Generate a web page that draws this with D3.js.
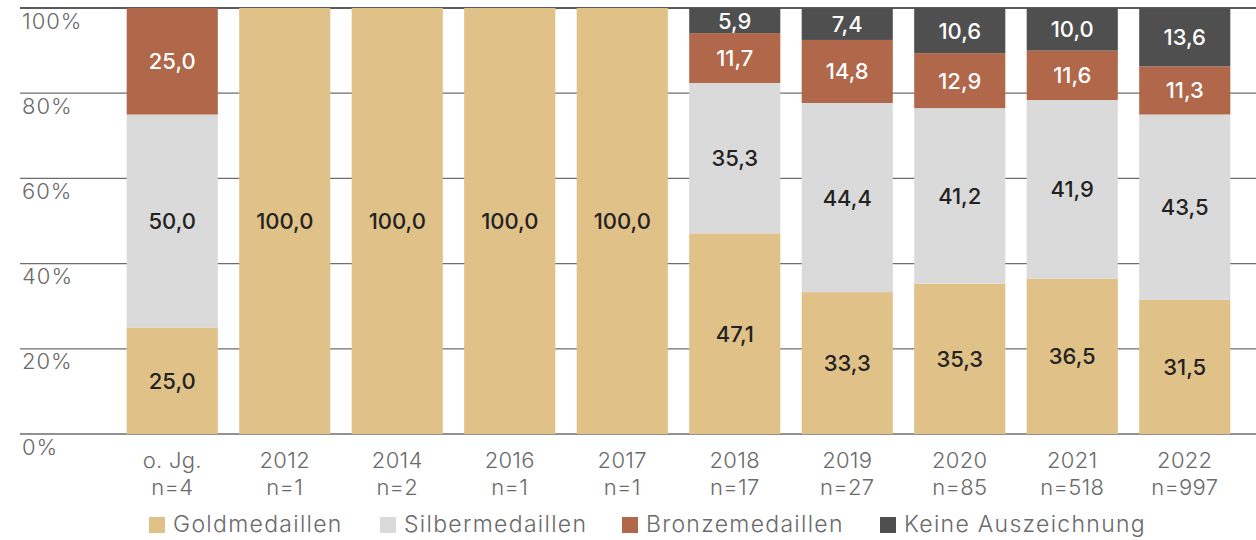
<!DOCTYPE html>
<html>
<head>
<meta charset="utf-8">
<script src="https://cdn.jsdelivr.net/npm/d3@7"></script>
<style>
  body { margin: 0; background: #fff; }
  text { font-family: Inter, "Noto Sans", sans-serif; }
</style>
</head>
<body>
<div id="chart"></div>
<script>
// categories (two-line x labels)
var years = ["o. Jg.", "2012", "2014", "2016", "2017", "2018", "2019", "2020", "2021", "2022"];
var counts = ["n=4", "n=1", "n=2", "n=1", "n=1", "n=17", "n=27", "n=85", "n=518", "n=997"];

// series values in percent
var gold   = [25.0, 100.0, 100.0, 100.0, 100.0, 47.1, 33.3, 35.3, 36.5, 31.5];
var silver = [50.0, 0, 0, 0, 0, 35.3, 44.4, 41.2, 41.9, 43.5];
var bronze = [25.0, 0, 0, 0, 0, 11.7, 14.8, 12.9, 11.6, 11.3];
var none   = [0, 0, 0, 0, 0, 5.9, 7.4, 10.6, 10.0, 13.6];

var seriesNames = ["Goldmedaillen", "Silbermedaillen", "Bronzemedaillen", "Keine Auszeichnung"];
var yTicks = [0, 20, 40, 60, 80, 100];

var colors = ["#E0C187", "#DADADA", "#B0674A", "#4F4F4F"];
var labelColors = ["#222222", "#222222", "#FFFFFF", "#FFFFFF"];
var textGray = "#6a6a6a";

var w = 1256, h = 540;
var svg = d3.select("#chart").append("svg")
            .attr("width", w)
            .attr("height", h);

var x = d3.scaleBand()
          .domain(years)
          .range([116, 1241])
          .paddingInner(0.19)
          .paddingOuter(0.095);

var y = d3.scaleLinear()
          .domain([0, 100])
          .range([434, 8]);

// gridlines
svg.append("g").selectAll("line")
   .data(yTicks)
   .enter()
   .append("line")
   .attr("x1", 20)
   .attr("x2", w)
   .attr("y1", function(d) { return y(d); })
   .attr("y2", function(d) { return y(d); })
   .attr("stroke", function(d) { return d == 100 ? "#5a5a5a" : "#6e6e6e"; })
   .attr("stroke-width", function(d) { return d == 100 ? 2 : 1.3; });

// y tick labels sit just below their line
svg.append("g").selectAll("text")
   .data(yTicks)
   .enter()
   .append("text")
   .attr("x", 22)
   .attr("y", function(d) { return y(d) + 20.5; })
   .attr("fill", textGray)
   .attr("font-size", 22)
   .attr("font-weight", 300)
   .attr("letter-spacing", 1)
   .text(function(d) { return d + "%"; });

// stack the series
var rows = years.map(function(yr, i) {
    return { year: yr, s0: gold[i], s1: silver[i], s2: bronze[i], s3: none[i] };
});
var stack = d3.stack().keys(["s0", "s1", "s2", "s3"]);
var layers = stack(rows);

var layerG = svg.append("g").selectAll("g.layer")
   .data(layers)
   .enter()
   .append("g")
   .attr("class", "layer")
   .attr("fill", function(d, i) { return colors[i]; });

layerG.selectAll("rect")
   .data(function(d) { return d; })
   .enter()
   .append("rect")
   .attr("x", function(d) { return x(d.data.year); })
   .attr("width", x.bandwidth())
   .attr("y", function(d) { return y(d[1]); })
   .attr("height", function(d) { return y(d[0]) - y(d[1]); });

// value labels centered in each segment
layers.forEach(function(layer, li) {
    svg.append("g").selectAll("text")
       .data(layer.filter(function(d) { return d[1] - d[0] > 0; }))
       .enter()
       .append("text")
       .attr("x", function(d) { return x(d.data.year) + x.bandwidth() / 2; })
       .attr("y", function(d) { return (y(d[0]) + y(d[1])) / 2; })
       .attr("text-anchor", "middle")
       .attr("dominant-baseline", "central")
       .attr("fill", labelColors[li])
       .attr("font-size", 22)
       .attr("font-weight", 500)
       .text(function(d) { return d3.format(".1f")(d[1] - d[0]).replace(".", ","); });
});

// x axis labels, two lines
var xl = svg.append("g").selectAll("text")
   .data(years)
   .enter()
   .append("text")
   .attr("x", function(d) { return x(d) + x.bandwidth() / 2; })
   .attr("text-anchor", "middle")
   .attr("fill", textGray)
   .attr("font-size", 22)
   .attr("font-weight", 300)
   .attr("letter-spacing", 0.3);
xl.append("tspan")
  .attr("x", function(d) { return x(d) + x.bandwidth() / 2; })
  .attr("y", 468)
  .text(function(d) { return d; });
xl.append("tspan")
  .attr("x", function(d) { return x(d) + x.bandwidth() / 2; })
  .attr("y", 495)
  .text(function(d, i) { return counts[i]; });

// legend
var legendX = [149, 380, 622, 880];
var legend = svg.append("g").selectAll("g")
   .data(seriesNames)
   .enter()
   .append("g")
   .attr("transform", function(d, i) { return "translate(" + legendX[i] + ",517)"; });
legend.append("rect")
   .attr("width", 16)
   .attr("height", 16)
   .attr("fill", function(d, i) { return colors[i]; });
legend.append("text")
   .attr("x", 24)
   .attr("y", 15)
   .attr("fill", textGray)
   .attr("font-size", 23)
   .attr("font-weight", 300)
   .attr("letter-spacing", 1.3)
   .text(function(d) { return d; });
</script>
</body>
</html>
